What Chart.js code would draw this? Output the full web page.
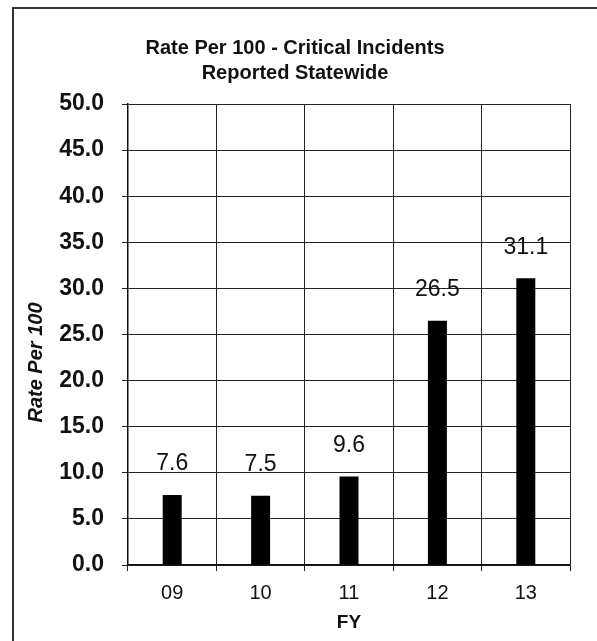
<!DOCTYPE html>
<html>
<head>
<meta charset="utf-8">
<script src="https://cdn.jsdelivr.net/npm/chart.js@4.4.0/dist/chart.umd.min.js"></script>
<style>
    html, body { margin: 0; padding: 0; background: #fff; overflow: hidden; }
    #wrap { position: relative; width: 597px; height: 641px; overflow: hidden; }
    #frame { position: absolute; left: 12px; top: 7px; width: 640px; height: 700px; border: 2px solid #333; box-sizing: border-box; }
    canvas { position: absolute; left: 0; top: 0; }
</style>
</head>
<body>
<div id="wrap">
    <div id="frame"></div>
    <canvas id="rateChart" width="597" height="641"></canvas>
</div>
<script>
// Chart data
const years = ['09', '10', '11', '12', '13'];
const rates = [7.6, 7.5, 9.6, 26.5, 31.1];
const titleLines = ['Rate Per 100 - Critical Incidents', 'Reported Statewide'];
const yTitle = 'Rate Per 100';

const FONT = '"Liberation Sans", Arial, sans-serif';

// value labels above bars + y axis title (sits a bit below centre in the original)
const valueLabels = {
    id: 'valueLabels',
    afterDatasetsDraw(chart) {
        const ctx = chart.ctx;
        const meta = chart.getDatasetMeta(0);
        ctx.save();
        ctx.font = '23px ' + FONT;
        ctx.fillStyle = '#111';
        ctx.textAlign = 'center';
        ctx.textBaseline = 'middle';
        meta.data.forEach((bar, i) => {
            ctx.fillText(rates[i].toFixed(1), bar.x, bar.y - 31);
        });
        ctx.restore();

        // y title
        const y = chart.scales.y;
        ctx.save();
        ctx.translate(y.left + 16, (y.top + y.bottom) / 2 + 28);
        ctx.rotate(-Math.PI / 2);
        ctx.font = 'italic bold 20px ' + FONT;
        ctx.fillStyle = '#111';
        ctx.textAlign = 'center';
        ctx.textBaseline = 'middle';
        ctx.fillText(yTitle, 0, 0);
        ctx.restore();
    }
};

document.addEventListener('DOMContentLoaded', function () {
    const ctx = document.getElementById('rateChart');
    new Chart(ctx, {
        type: 'bar',
        data: {
            labels: years,
            datasets: [{
                label: 'Rate Per 100',
                data: rates,
                backgroundColor: '#000',
                borderWidth: 0,
                barPercentage: 0.215,
                categoryPercentage: 1.0
            }]
        },
        options: {
            responsive: false,
            animation: false,
            layout: { padding: { left: 20, right: 27, top: 36, bottom: 7 } },
            plugins: {
                legend: { display: false },
                tooltip: { enabled: false },
                title: {
                    display: true,
                    text: titleLines,
                    color: '#111',
                    font: { family: FONT, size: 20, weight: 'bold', lineHeight: 1.25 },
                    padding: { top: 0, bottom: 18 }
                }
            },
            scales: {
                x: {
                    grid: { color: '#222', lineWidth: 1, tickLength: 6, offset: true },
                    border: { color: '#111', width: 1.5 },
                    ticks: { color: '#111', font: { family: FONT, size: 20 }, padding: 10 },
                    title: {
                        display: true,
                        text: 'FY',
                        color: '#111',
                        font: { family: FONT, size: 19, weight: 'bold' },
                        padding: { top: 4, bottom: 0 }
                    },
                    afterFit: function (s) { s.height = 69; }
                },
                y: {
                    min: 0,
                    max: 50,
                    grid: { color: '#222', lineWidth: 1, tickLength: 6 },
                    border: { color: '#111', width: 1.5 },
                    ticks: {
                        stepSize: 5,
                        color: '#111',
                        font: { family: FONT, size: 23, weight: 'bold' },
                        padding: 18,
                        callback: function (v) { return v.toFixed(1); }
                    },
                    title: { display: false },
                    afterFit: function (s) { s.width = 108; }
                }
            }
        },
        plugins: [valueLabels]
    });
});
</script>
</body>
</html>
